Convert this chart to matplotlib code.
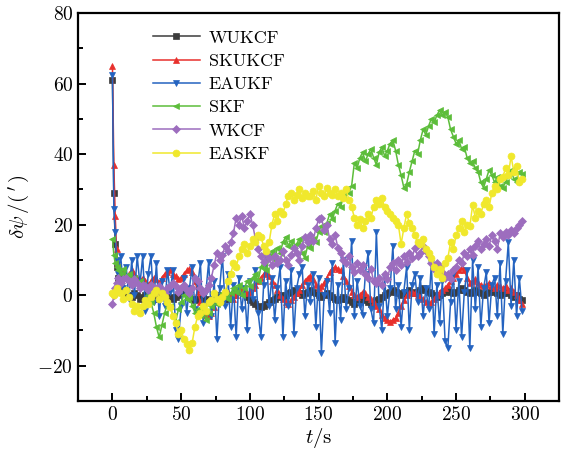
import numpy as np
import matplotlib
matplotlib.use("Agg")
import matplotlib.pyplot as plt

plt.rcParams['font.family'] = 'cmr10'
plt.rcParams['mathtext.fontset'] = 'cm'
plt.rcParams['axes.formatter.use_mathtext'] = True

# time axis: 1 s steps during the start-up transient, then 2 s steps
t = np.concatenate([[0, 1, 2, 3], np.arange(4, 300, 2)])

wukcf = [61, 29, 14.5, 8,
         5, 3, 1.5, 0.5, 0, -0.5, 0.5, 0, -1, -0.5,
         0, 0.5, -0.5, -1, 0, 0.5, 1, 0.5, 0, -0.5,
         -1, -0.5, 0, 0.5, 1, 0.5, -0.5, -1, -1.5, -1,
         -1, -0.5, -1, -2, -1.5, -1, -0.5, 0, -0.5, -1,
         -1, -0.5, 0, 1, 1.5, 1, 0.5, -0.5, -1.5, -2,
         -2.5, -3, -3.5, -3, -2.5, -2, -1.5, -1, -0.5, 0,
         -0.5, 0, 0.5, 1, 1.5, 1, 0.5, 0, 0.5, 1,
         1.5, 1, 0.5, 0, -0.5, 0, 0.5, 0, -0.5, -1,
         -1.5, -1, -0.5, -1, -1.5, -2, -2.5, -2, -1.5, -1,
         -1.5, -2, -2.5, -2, -1.5, -1, -0.5, 0, 0.5, 1,
         1.5, 1, 0.5, 0, 0.5, 1, 1.5, 1, 0.5, 1,
         1.5, 2, 1.5, 1, 0.5, 0, -0.5, 0, 0.5, 1,
         1.5, 1, 0.5, 1, 1.5, 2, 1.5, 1, 0.5, 1,
         1.5, 1, 0.5, 0, 0.5, 1, 1.5, 1, 0.5, 0,
         0.5, 1, 0.5, 0, -0.5, 0, -1, -1.5]

skukcf = [65, 37, 22.5, 13,
          9, 7, 6.5, 5, 6, 7, 6, 5, 4, 5,
          4, 3, 4, 5, 4.5, 3.5, 5, 6, 6.5, 7,
          6, 5.5, 4.5, 5, 6, 7, 7.5, 6.5, 4, 1,
          -2, -4, -5.5, -6, -5, -3.5, -2, -1, 0, 1,
          1, 0, -1, 0, 1, 2, 1.5, 0.5, 1, 2,
          3, 4, 5, 6, 6.5, 5.5, 4, 3, 1.5, 0,
          -1, -2, -2.5, -1.5, -0.5, 0.5, 1.5, 3, 4, 5,
          5.5, 4.5, 3, 2, 2.5, 3.5, 5, 6.5, 7.5, 8,
          7.5, 7, 5.5, 4, 2.5, 1, 0, -0.5, 0, 1,
          0.5, -0.5, -1, -2, -3, -4, -5.5, -6.5, -7, -7.5,
          -7, -6.5, -5, -3, -1.5, 0, 0.5, 1, 0.5, 0,
          -0.5, -1, -2, -2.5, -2, -1, 0, 1, 1.5, 2,
          3, 4, 5, 6, 7, 8, 7, 5, 3.5, 4,
          4.5, 3.5, 3, 2.5, 3, 3.5, 2.5, 2, 3, 2.5,
          2, 2.5, 1.5, 2, 1, 0, -1.5, -2.5]

eaukf = [62.5, 24.5, 18, 10,
         6, 11, 2, 8, -1, 10, 0, 11, 3, 11,
         -4.5, 6, 11, -2, 9, -6, 4, -3, 7, 1,
         7, -10, -12.5, -3, 5, -5, 2, 8, -4, 3,
         9, -8, 1, 9.5, -6, 4, -12.5, 2, 11, -3,
         6, -9, 3, -12, 5, -4, 2, -10, 4, -1,
         7, -5, -12, 3, 11, -3, 5, -7, 2, 8,
         -12, 4, -3, 7, -11, 2, 6, 8, -6, 3,
         -2, 6, -9, 5, -16.5, 0, 4, -5, 9, -13.5,
         3, -7, 10, -4, 2, 15.5, -6, 4, -3, -5.5,
         6, 12, -4, -8, 18, -3, -10, 5, -6, 2,
         14, -4, 3, -9, 1, 8, -10, 3, 6, -2,
         5, -6, 2, -4, 9, -11, 3, -8, 4, -13,
         -15, -2, 6, -10, 4, -12, 1, 7, -15, 10,
         -4, 8, -9, 2, 6.5, -8, 3, 5, -6, 9,
         -11, 4, 15, -3, 10, -6, 5, -4.5]

skf = [16, 11.5, 9, 8,
       7, 6, 7.5, 5.5, 6, 4.5, 5, 3.5, 4, 3,
       2, 0, -2, -5, -9, -12, -8.5, -5, -2.5, -3,
       -6, -7.5, -4, -2, 0, -1, -0.5, -3, -5, -4,
       -5.5, -4, -7, -5, -3, -1.5, -2.5, -1, 0.5, -0.5,
       -1, 0.5, 2, 1, 3, 0, 2, 4, 2.5, 5,
       6, 4, 8, 9.5, 7, 11, 12.5, 10, 13.5, 12,
       15, 16.5, 14, 15.5, 13, 14.5, 16, 12, 10.5, 14,
       13.5, 16, 15, 18, 19.5, 18, 20.5, 23, 21.5, 24,
       26, 25, 28, 30, 29, 31, 37.5, 36, 39, 40.5,
       38, 40, 41.5, 39, 37, 40.5, 42, 39.5, 41, 43,
       44, 41, 37, 34, 30.5, 31.5, 35, 38, 41, 40,
       44, 47, 45.5, 48, 50, 49, 51, 52.5, 51, 52,
       50.5, 47, 45, 43, 44, 41.5, 42, 39, 37.5, 38,
       36, 35, 32, 30.5, 33, 35.5, 34, 32, 33.5, 31,
       30.5, 32, 34, 35.5, 33, 32, 35, 34.5]

wkcf = [-2.5, 0, 2, 3.5,
        5, 3.5, 4.5, 5, 4, 3, 4.5, 3.5, 2, 3,
        2.5, 1.5, 3, 2, 1, 2.5, 1.5, 0.5, 2, 2.5,
        3.5, 2.5, 1, 2, 3, 1.5, 0.5, 2, 5, 4,
        2, 0.5, 1.5, 3, 5, 8.5, 12, 10, 11.5, 14,
        12.5, 15, 17.5, 22, 20, 22.5, 19, 21, 23, 20,
        16, 13, 11, 9.5, 12, 10.5, 8.5, 11, 9, 10,
        12.5, 10, 8.5, 11.5, 13.5, 12, 10, 14, 16.5, 15,
        17, 15.5, 19, 21.5, 22, 18.5, 20, 16, 14.5, 17,
        13.5, 12, 10, 9, 11, 8, 6.5, 9, 7, 8.5,
        6, 5, 7.5, 4, 3.5, 5, 3, 6, 4.5, 8,
        9, 7, 10, 8.5, 11, 9.5, 12, 10.5, 13.5, 11,
        12, 14, 12.5, 11, 9, 7.5, 9, 8, 6.5, 5,
        6, 4.5, 7, 8, 10, 9, 12, 11, 13, 11.5,
        14, 15.5, 13, 14.5, 16, 14, 17, 15.5, 13, 17.5,
        16.5, 18, 17, 18.5, 17.5, 19, 20, 21]

easkf = [0.5, 0, 1, 2,
         1, 0.5, -1, 1.5, -0.5, -2.5, -4.5, -3, -5, -3,
         -1.5, -2.5, -0.5, 0.5, 1.5, -1, 0.5, -0.5, -2, -3.5,
         -6, -8, -11, -10, -12.5, -14, -15.5, -13.5, -9, -6,
         -5, -3, -4.5, -2, -1.5, 0.5, -1, -2, -0.5, 1,
         4, 6, 9, 8, 11, 13, 14.5, 12, 14, 16,
         15, 17, 16.5, 14, 12.5, 15, 20, 23, 21, 24,
         23, 26, 28, 29, 27, 28.5, 30, 27.5, 29, 28,
         28, 29.5, 27, 31, 29, 28, 30.5, 29, 28.5, 30,
         28, 29, 27.5, 30, 27, 25, 22, 20, 21.5, 19,
         21, 23, 22, 25, 27, 26, 27.5, 25, 24, 23,
         22, 21, 20, 14.5, 19, 23, 20.5, 19, 17, 15,
         14.5, 16, 13, 12, 10.5, 8, 6, 7.5, 5, 9,
         10.5, 15, 13, 17, 19, 21, 18, 20, 19.5, 25.5,
         22, 24, 23, 26, 27, 25, 29, 31, 30, 33,
         33.5, 36, 34, 39.5, 35, 36.5, 32, 33]

names = ['WUKCF', 'SKUKCF', 'EAUKF', 'SKF', 'WKCF', 'EASKF']
series = [wukcf, skukcf, eaukf, skf, wkcf, easkf]
colors = ['#3c3c3c', '#e8302c', '#2463c0', '#5cbd3a', '#9d6dbe', '#f0e82c']
markers = ['s', '^', 'v', '<', 'D', 'o']
msizes = [4.5, 5, 5, 5, 4.3, 5]

fig = plt.figure(figsize=(5.7, 4.55), dpi=100)
ax = fig.add_axes([0.137, 0.119, 0.844, 0.852])

for y, name, c, m, ms in zip(series, names, colors, markers, msizes):
    ax.plot(t, y, color=c, marker=m, markersize=ms, linewidth=1.1,
            markeredgewidth=0.5, label=name)

ax.set_xlim(-25, 325)
ax.set_ylim(-30, 80)
ax.set_xticks(np.arange(0, 301, 50))
ax.set_xticks(np.arange(25, 301, 50), minor=True)
ax.set_yticks(np.arange(-20, 81, 20))
ax.set_yticks(np.arange(-30, 81, 20), minor=True)
ax.tick_params(which='both', direction='in', width=1.4, labelsize=14)
ax.tick_params(which='major', length=6)
ax.tick_params(which='minor', length=3.5)
for s in ax.spines.values():
    s.set_linewidth(1.6)

ax.set_xlabel(r'$t$/s', fontsize=15, labelpad=2)
ax.set_ylabel(r'$\delta\psi\,/(\,^{\prime}\,)$', fontsize=15, labelpad=4)

leg = ax.legend(loc='upper left', bbox_to_anchor=(0.14, 0.975), frameon=False,
                fontsize=13, handlelength=2.6, labelspacing=0.42,
                handletextpad=0.5, borderaxespad=0)

fig.savefig('out.png', dpi=100)
